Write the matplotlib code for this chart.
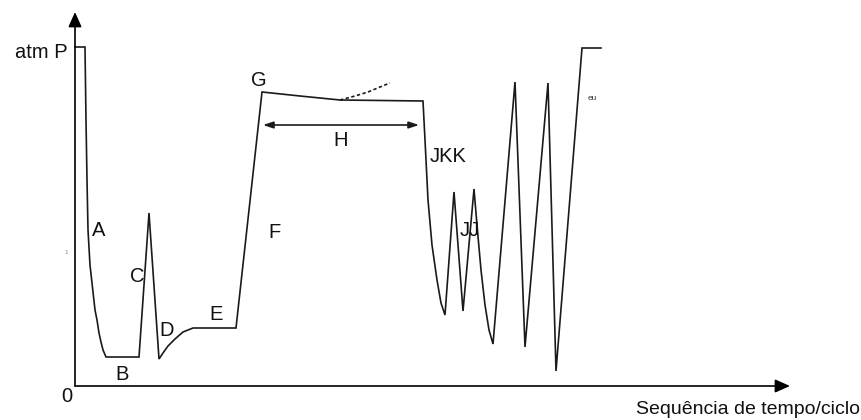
import matplotlib.pyplot as plt

# pressure trace, time along x, pressure along y (0 at the x axis)
t = [0, 10, 11, 12, 13, 15, 18, 20, 22, 24, 26, 28, 31, 64, 74, 84, 88, 93, 100,
     108, 118, 161, 187, 225, 265, 348, 350, 353, 357, 362, 366, 370, 379, 388,
     399, 402, 406, 410, 414, 418, 440, 450, 473, 481, 507, 526]
p = [339, 339, 266, 206, 156, 121, 94, 76, 66, 53, 44, 36, 29, 29, 173, 27, 33,
     40, 47, 54, 58, 58, 294, 290, 286, 285, 246, 186, 141, 106, 83, 71, 194,
     75, 197, 161, 116, 81, 56, 42, 304, 39, 303, 15, 338, 338]

# dotted branch off the G-H plateau
t_dot = [265, 280, 293, 305, 315]
p_dot = [286, 290, 294, 299, 303]

labels = ["A", "B", "C", "D", "E", "F", "G", "H", "JKK", "JJ"]
label_t = [24, 47, 62, 92, 141, 200, 184, 266, 373, 395]
label_p = [156, 12, 109, 56, 71, 154, 305, 246, 229, 156]

plt.rcParams['font.family'] = ['Liberation Sans', 'DejaVu Sans']

fig = plt.figure(figsize=(8.61, 4.20), dpi=100)
ax = fig.add_axes([0, 0, 1, 1])
ax.set_xlim(-75, 786)
ax.set_ylim(-34, 386)
ax.axis("off")

lc = "#1a1a1a"
ax.plot(t, p, color=lc, lw=1.2, solid_joinstyle="miter")
ax.plot(t_dot, p_dot, color=lc, lw=1.2, ls=(0, (2, 1.5)))

# axes with arrow heads
ax.annotate("", xy=(0, 374), xytext=(0, 0),
            arrowprops=dict(arrowstyle="-|>,head_length=0.9,head_width=0.4",
                            color="black", lw=1.2, shrinkA=0, shrinkB=0))
ax.annotate("", xy=(715, 0), xytext=(0, 0),
            arrowprops=dict(arrowstyle="-|>,head_length=0.9,head_width=0.4",
                            color="black", lw=1.2, shrinkA=0, shrinkB=0))

# H span arrow
ax.annotate("", xy=(188, 261), xytext=(344, 261),
            arrowprops=dict(arrowstyle="<|-|>,head_length=0.6,head_width=0.2",
                            color=lc, lw=1.2, shrinkA=0, shrinkB=0))

fs = 14.5
for s, x, y in zip(labels, label_t, label_p):
    ax.text(x, y, s, fontsize=fs, ha="center", va="center", color="#111")

ax.text(-7, 334, "atm P", fontsize=fs, ha="right", va="center", color="#111")
ax.text(-8, -11, "0", fontsize=fs, ha="center", va="center", color="#111")
ax.text(-9, 133, "1", fontsize=4.5, ha="center", va="center", color="#888")
ax.text(517, 288, "eu", fontsize=6, ha="center", va="center", color="#333")
ax.text(785, -24, "Sequência de tempo/ciclo", fontsize=14, ha="right",
        va="center", color="#111")

fig.savefig("out.png", dpi=100)
